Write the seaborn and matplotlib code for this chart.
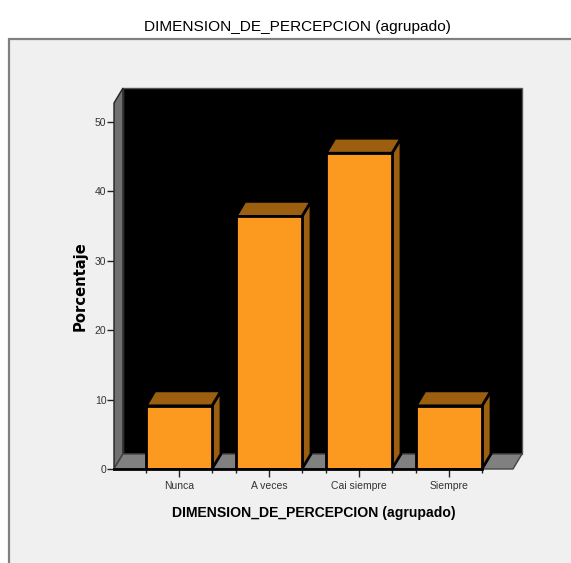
import matplotlib
matplotlib.use('Agg')
import matplotlib.pyplot as plt
from matplotlib.patches import Polygon, Rectangle
import pandas as pd
import seaborn as sns

categories = ['Nunca', 'A veces', 'Cai siempre', 'Siempre']
porcentaje = [9.1, 36.4, 45.5, 9.1]
y_ticks = [0, 10, 20, 30, 40, 50]

W, H = 571, 563
BAR = '#FB9A1E'
BAR_DARK = '#9C5F10'
DEPTH_X, DEPTH_Y = 9, 15


def fx(px):
    return px / W


def fy(py):
    return 1 - py / H


sns.set_style('white')
plt.rcParams['font.family'] = ['Liberation Sans', 'DejaVu Sans']

df = pd.DataFrame({'cat': categories, 'pct': porcentaje})

fig = plt.figure(figsize=(W / 100, H / 100), dpi=100, facecolor='white')
fig.add_artist(Rectangle((fx(9), -0.01), 1 - fx(9) + 0.01, fy(39) + 0.01, transform=fig.transFigure,
                         facecolor='#F0F0F0', edgecolor='#808080', linewidth=1.6, zorder=-1))

ax = fig.add_axes([fx(114), fy(469), 399 / W, 366 / H])
ax.patch.set_alpha(0)
sns.barplot(data=df, x='cat', y='pct', order=categories, color=BAR, saturation=1,
            width=0.733, edgecolor='black', linewidth=2, ax=ax, zorder=3)
ax.set_xlim(-0.722, 3.711)
ax.set_ylim(0, 366 / 6.94)

dx = DEPTH_X * (3.711 + 0.722) / 399
dy = DEPTH_Y * (366 / 6.94) / 366
x0, x1 = ax.get_xlim()
y1 = ax.get_ylim()[1]


def face(points, color, edge='#222222', lw=1.0, z=1):
    ax.add_patch(Polygon(points, closed=True, facecolor=color, edgecolor=edge,
                         linewidth=lw, clip_on=False, zorder=z))


# walls and floor
face([(x0 + dx, dy), (x1 + dx, dy), (x1 + dx, y1 + dy), (x0 + dx, y1 + dy)], 'black', edge='#555555')
face([(x0, 0), (x0 + dx, dy), (x0 + dx, y1 + dy), (x0, y1)], '#707070')
face([(x0, 0), (x1, 0), (x1 + dx, dy), (x0 + dx, dy)], '#808080', edge='#444444')

# depth faces of the bars
edges = []
for bar in ax.patches[:]:
    if isinstance(bar, Polygon):
        continue
    l, w, h = bar.get_x(), bar.get_width(), bar.get_height()
    r = l + w
    edges += [l, r]
    face([(r, 0), (r + dx, dy), (r + dx, h + dy), (r, h)], BAR_DARK, edge='black', lw=2, z=2)
    face([(l, h), (r, h), (r + dx, h + dy), (l + dx, h + dy)], BAR_DARK, edge='black', lw=2, z=2)

ax.set_yticks(y_ticks)
ax.set_xticks(range(len(categories)))
ax.set_xticklabels(categories)
ax.set_xticks(edges, minor=True)
ax.tick_params(axis='y', which='major', left=True, length=5, width=1, color='#222222',
               labelsize=7.5, labelcolor='#333333', pad=0.5)
ax.tick_params(axis='x', which='major', bottom=True, length=6, width=1, color='#222222',
               labelsize=7.5, labelcolor='#333333', pad=2.5)
ax.tick_params(axis='x', which='minor', bottom=True, length=3, width=1, color='#222222')

sns.despine(ax=ax, left=True, bottom=False, top=True, right=True)
ax.spines['bottom'].set_linewidth(2)
ax.spines['bottom'].set_color('black')
ax.spines['bottom'].set_zorder(4)
ax.spines['bottom'].set_bounds(x0, max(edges))
ax.set_xlabel('')
ax.set_ylabel('')

fig.text(fx(297), fy(26.5), 'DIMENSION_DE_PERCEPCION (agrupado)', ha='center', va='center',
         fontsize=11.1, color='black')
fig.text(fx(314), fy(513), 'DIMENSION_DE_PERCEPCION (agrupado)', ha='center', va='center',
         fontsize=10.1, fontweight='bold', color='black')
fig.text(fx(80), fy(286), 'Porcentaje', ha='center', va='center', rotation=90,
         fontsize=10.6, fontweight='bold', color='black', family='DejaVu Sans')

fig.savefig('out.png', dpi=100)
